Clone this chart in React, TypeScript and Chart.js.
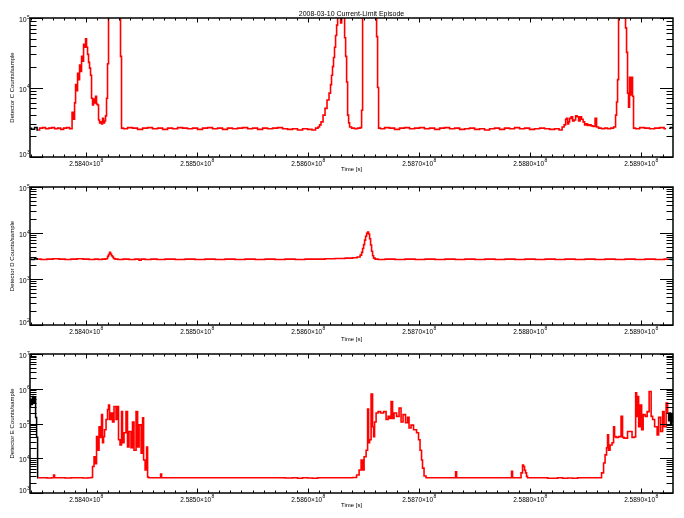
import { useEffect, useRef } from 'react';
import { Chart, registerables } from 'chart.js';

Chart.register(...registerables);

const FONT = '"Liberation Sans", Arial, Helvetica, sans-serif';

// ---------- text ----------
const TITLE = '2008-03-10 Current-Limit Episode';
const X_TITLE = 'Time [s]';
const Y_TITLES = ['Detector C Counts/sample', 'Detector D Counts/sample', 'Detector E Counts/sample'];

// ---------- x axis (seconds) ----------
const X_MIN = 258349500;
const X_MAX = 258928800;
const X_MAJOR = 100000;
const X_MINOR = 10000;
// part of the record drawn in red (the rest shows in black)
const RED_START = 258356800;
const RED_END = 258924400;

// ---------- y ranges ----------
const Y_RANGES: [number, number][] = [[1e3, 1e5], [1e2, 1e5], [1e3, 1e7]];

// ---------- Detector C ----------
const detCTime = [
  258349500, 258352200, 258355000, 258356800, 258359500, 258362200, 258364900, 258367600, 258370300, 258373000,
  258375700, 258378400, 258381100, 258383800, 258386500, 258388300, 258389200, 258390100, 258391000, 258391900,
  258392800, 258393700, 258394600, 258395500, 258396400, 258397300, 258398200, 258399100, 258400000, 258400900,
  258401800, 258402700, 258403600, 258404500, 258405400, 258406300, 258407200, 258408100, 258409000, 258409900,
  258410800, 258411700, 258412600, 258413500, 258414400, 258415300, 258416200, 258417100, 258418000, 258418900,
  258419800, 258420700, 258425200, 258430600, 258431500, 258432400, 258435100, 258439600, 258444100, 258448700,
  258453200, 258457700, 258462200, 258466700, 258471200, 258475700, 258480200, 258484700, 258489200, 258493700,
  258498200, 258502700, 258507200, 258511700, 258516200, 258520700, 258525200, 258529700, 258534200, 258538800,
  258543300, 258547800, 258552300, 258556800, 258561300, 258565800, 258570300, 258574800, 258579300, 258583800,
  258588300, 258592800, 258597300, 258601800, 258605400, 258608100, 258609900, 258610800, 258612600, 258614400,
  258616200, 258618000, 258619800, 258620700, 258621600, 258622500, 258623400, 258624300, 258625300, 258626200,
  258627100, 258628900, 258629800, 258630700, 258632500, 258633400, 258634300, 258635200, 258636100, 258637000,
  258637900, 258640600, 258643300, 258646000, 258647800, 258648700, 258649600, 258655900, 258661300, 258662200,
  258663100, 258664000, 258666700, 258671200, 258675700, 258680200, 258684700, 258689200, 258693700, 258698200,
  258702700, 258707200, 258711700, 258716300, 258720800, 258725300, 258729800, 258734300, 258738800, 258743300,
  258747800, 258752300, 258756800, 258761300, 258765800, 258770300, 258774800, 258779300, 258783800, 258788300,
  258792800, 258797300, 258801800, 258806400, 258810900, 258815400, 258819900, 258824400, 258828000, 258829800,
  258831600, 258832500, 258833400, 258834300, 258835200, 258836100, 258837900, 258838800, 258840600, 258841500,
  258843300, 258844200, 258846000, 258846900, 258848700, 258849600, 258851400, 258852300, 258854100, 258855900,
  258857700, 258859500, 258860400, 258863100, 258865800, 258868500, 258871200, 258873900, 258876600, 258877500,
  258878400, 258879300, 258880200, 258882900, 258885600, 258886500, 258887400, 258888300, 258889200, 258890100,
  258891000, 258891900, 258892800, 258893700, 258896500, 258901000, 258905500, 258910000, 258914500, 258919000,
  258922600, 258925300, 258928000, 258929800,
];
const detCCounts = [
  2600, 2500, 2650, 2450, 2600, 2650, 2550, 2600, 2650, 2550,
  2600, 2500, 2600, 2650, 2550, 4400, 3500, 6000, 11000, 9000,
  16000, 13000, 21000, 17000, 28000, 24000, 42000, 38000, 50000, 38000,
  30000, 23000, 19000, 15000, 7000, 5600, 6800, 6000, 7500, 5800,
  5600, 3400, 3100, 3200, 3000, 3600, 3100, 3300, 3900, 7000,
  22000, 200000, 200000, 200000, 28000, 2600, 2550, 2650, 2600, 2500,
  2600, 2650, 2550, 2600, 2500, 2600, 2550, 2650, 2600, 2550,
  2600, 2500, 2600, 2650, 2550, 2600, 2500, 2600, 2550, 2600,
  2650, 2550, 2600, 2500, 2600, 2550, 2600, 2650, 2550, 2500,
  2550, 2450, 2550, 2500, 2450, 2600, 2700, 2900, 3200, 4000,
  5000, 6600, 8300, 11000, 15000, 20000, 27000, 38000, 56000, 79000,
  110000, 110000, 85000, 110000, 110000, 52000, 28000, 12000, 4000, 3100,
  2700, 2600, 2550, 2600, 2650, 4700, 200000, 200000, 200000, 54000,
  10000, 2600, 2550, 2650, 2600, 2500, 2600, 2650, 2550, 2600,
  2650, 2550, 2600, 2500, 2600, 2650, 2550, 2600, 2500, 2550,
  2600, 2500, 2550, 2450, 2550, 2600, 2500, 2600, 2550, 2650,
  2550, 2600, 2500, 2550, 2600, 2550, 2500, 2550, 2450, 2700,
  2900, 3500, 3600, 3000, 3200, 3600, 3800, 3300, 3400, 3900,
  3800, 3300, 3800, 3500, 3200, 2900, 3000, 2850, 2900, 2800,
  2750, 3600, 2700, 2600, 2550, 2600, 2550, 2600, 2700, 4000,
  6200, 13000, 200000, 200000, 200000, 72000, 32000, 8300, 5200, 14000,
  7800, 14000, 7500, 2600, 2550, 2650, 2600, 2550, 2600, 2650,
  2550, 2600, 2650, 2600,
];

// ---------- Detector D ----------
const detDTime = [
  258349500, 258352200, 258355000, 258356800, 258362200, 258367600, 258373000, 258378400, 258383800, 258389200,
  258394600, 258400000, 258405400, 258409900, 258412600, 258416200, 258418900, 258419800, 258420700, 258421600,
  258422500, 258423400, 258424300, 258425200, 258427000, 258430600, 258436000, 258441400, 258446900, 258448700,
  258450500, 258455900, 258461300, 258466700, 258475700, 258484700, 258493700, 258502700, 258511700, 258520700,
  258529700, 258538800, 258547800, 258556800, 258565800, 258574800, 258583800, 258592800, 258601800, 258610800,
  258619800, 258628900, 258637900, 258642400, 258646000, 258647800, 258648700, 258649600, 258650500, 258651400,
  258652300, 258653200, 258654100, 258655000, 258655900, 258656800, 258657700, 258658600, 258659500, 258661300,
  258664900, 258673900, 258682900, 258691900, 258700900, 258709900, 258718900, 258727900, 258736900, 258745900,
  258754900, 258763900, 258773000, 258782000, 258791000, 258800000, 258809100, 258818100, 258827100, 258836100,
  258845100, 258854100, 258863100, 258872100, 258881100, 258890100, 258899200, 258908200, 258917200, 258924400,
  258929800,
];
const detDCounts = [
  2700, 2650, 2750, 2700, 2650, 2700, 2750, 2700, 2650, 2700,
  2750, 2700, 2650, 2700, 2650, 2700, 2750, 3100, 3400, 3800,
  3500, 3200, 3000, 2800, 2700, 2650, 2700, 2650, 2700, 2550,
  2700, 2650, 2700, 2650, 2700, 2650, 2700, 2650, 2700, 2650,
  2700, 2650, 2700, 2650, 2700, 2650, 2700, 2650, 2700, 2700,
  2750, 2800, 2850, 2900, 3000, 3300, 3800, 4600, 5600, 7000,
  8500, 9800, 10500, 9500, 7500, 5500, 4000, 3200, 2850, 2700,
  2650, 2700, 2650, 2700, 2650, 2700, 2650, 2700, 2650, 2700,
  2650, 2700, 2650, 2700, 2650, 2700, 2650, 2700, 2650, 2700,
  2650, 2700, 2650, 2700, 2650, 2700, 2650, 2700, 2650, 2700,
  2650,
];

// ---------- Detector E ----------
const detETime = [
  258349500, 258350400, 258351300, 258352200, 258353100, 258354100, 258355000, 258355900, 258356800, 258362200,
  258367600, 258370300, 258371200, 258372100, 258378400, 258383800, 258389200, 258394600, 258400000, 258403600,
  258405400, 258406300, 258408100, 258409000, 258409900, 258410800, 258412600, 258413500, 258414400, 258415300,
  258416200, 258417100, 258418900, 258419800, 258420700, 258421600, 258423400, 258424300, 258426100, 258427900,
  258428800, 258429700, 258431500, 258432400, 258433300, 258435100, 258436900, 258437800, 258439600, 258441400,
  258442300, 258444100, 258446000, 258446900, 258448700, 258450500, 258451400, 258452300, 258454100, 258455000,
  258455900, 258456800, 258466700, 258467600, 258468500, 258475700, 258484700, 258493700, 258502700, 258511700,
  258520700, 258529700, 258538800, 258547800, 258556800, 258565800, 258574800, 258583800, 258588300, 258592800,
  258597300, 258601800, 258606300, 258610800, 258619800, 258628900, 258637900, 258642400, 258645100, 258646900,
  258648700, 258649600, 258651400, 258653200, 258654100, 258655000, 258655900, 258657700, 258658600, 258659500,
  258660400, 258662200, 258664000, 258666700, 258669400, 258671200, 258673000, 258673900, 258675700, 258676600,
  258678400, 258681100, 258682900, 258684700, 258686500, 258689200, 258690100, 258691900, 258693700, 258696400,
  258699100, 258700000, 258701800, 258702700, 258703600, 258705400, 258707200, 258718900, 258732500, 258733400,
  258734300, 258745900, 258763900, 258782900, 258783800, 258784700, 258791000, 258792800, 258793700, 258794600,
  258795500, 258796400, 258797300, 258798200, 258809100, 258822600, 258827100, 258831600, 258836100, 258840600,
  258845100, 258854100, 258863100, 258865800, 258866700, 258868500, 258869400, 258870300, 258871200, 258873000,
  258874800, 258875700, 258876600, 258878400, 258881100, 258882900, 258883800, 258885600, 258887400, 258888300,
  258891000, 258892800, 258894700, 258895600, 258896500, 258897400, 258898300, 258900100, 258901000, 258902800,
  258904600, 258906400, 258908200, 258910000, 258910900, 258913600, 258915400, 258916300, 258919000, 258919900,
  258921700, 258923500, 258924400, 258925300, 258926200, 258927100, 258928000, 258929800,
];
const detECounts = [
  300000, 500000, 350000, 600000, 400000, 550000, 150000, 40000, 2750, 2750,
  2700, 2750, 3300, 2750, 2750, 2700, 2750, 2750, 2700, 2750,
  2800, 5800, 11000, 7000, 42000, 17000, 81000, 40000, 180000, 28000,
  42000, 66000, 130000, 250000, 340000, 130000, 200000, 110000, 310000, 130000,
  310000, 34000, 24000, 220000, 28000, 54000, 220000, 21000, 59000, 20000,
  110000, 17000, 220000, 21000, 91000, 14000, 145000, 8900, 4600, 21000,
  2900, 2750, 2750, 3500, 2750, 2750, 2750, 2750, 2750, 2750,
  2750, 2750, 2750, 2750, 2750, 2750, 2750, 2700, 2750, 2650,
  2750, 2700, 2650, 2750, 2750, 2750, 2750, 2800, 3300, 4600,
  8900, 4600, 11000, 17000, 260000, 28000, 34000, 700000, 81000, 42000,
  110000, 200000, 220000, 200000, 220000, 130000, 160000, 140000, 430000, 140000,
  200000, 160000, 280000, 110000, 180000, 105000, 150000, 74000, 90000, 66000,
  54000, 34000, 17000, 8900, 5200, 3100, 2750, 2750, 2750, 4100,
  2750, 2750, 2750, 2750, 4200, 2750, 2750, 3800, 6400, 5800,
  4500, 3800, 3000, 2750, 2750, 2650, 2750, 2650, 2700, 2650,
  2750, 2750, 2750, 3800, 7300, 12500, 20000, 47000, 17000, 24000,
  28000, 81000, 42000, 40000, 42000, 160000, 40000, 38000, 38000, 59000,
  59000, 40000, 41000, 760000, 160000, 600000, 81000, 340000, 66000, 180000,
  160000, 220000, 830000, 160000, 130000, 81000, 47000, 150000, 59000, 220000,
  81000, 390000, 200000, 120000, 200000, 90000, 180000, 110000,
];

const SERIES = [
  { times: detCTime, counts: detCCounts },
  { times: detDTime, counts: detDCounts },
  { times: detETime, counts: detECounts },
];

// ---------- layout (page pixels) ----------
const LAYOUT = [
  { top: 0, height: 175, padTop: 0, xAxisH: 18, xTitlePb: 1.9, showTitle: true },
  { top: 175, height: 170, padTop: 12, xAxisH: 20, xTitlePb: 2.4, showTitle: false },
  { top: 340, height: 178, padTop: 14, xAxisH: 25, xTitlePb: 8.9, showTitle: false },
];

function drawPowerLabel(ctx: any, mant: string, exp: string, xPos: number, base: number, align: 'center' | 'right', mainSize: number, supSize: number, rise: number) {
  ctx.font = `${mainSize}px ${FONT}`;
  const w1 = ctx.measureText(mant).width;
  ctx.font = `${supSize}px ${FONT}`;
  const w2 = ctx.measureText(exp).width;
  const x0 = align === 'center' ? xPos - (w1 + w2) / 2 : xPos - (w1 + w2);
  ctx.textAlign = 'left';
  ctx.textBaseline = 'alphabetic';
  ctx.font = `${mainSize}px ${FONT}`;
  ctx.fillText(mant, x0, base);
  ctx.font = `${supSize}px ${FONT}`;
  ctx.fillText(exp, x0 + w1 + 0.3, base - rise);
}

const idlFrame = {
  id: 'idlFrame',
  afterDraw(chart: any) {
    const { ctx, chartArea: a, scales } = chart;
    const x = scales.x;
    const y = scales.y;
    ctx.save();
    ctx.strokeStyle = '#000';
    ctx.fillStyle = '#000';
    ctx.lineWidth = 1;
    ctx.beginPath();
    for (let i = Math.ceil(x.min / X_MINOR); i * X_MINOR <= x.max; i++) {
      const px = Math.round(x.getPixelForValue(i * X_MINOR)) + 0.5;
      const len = i % 10 === 0 ? 4.5 : 2.5;
      ctx.moveTo(px, a.bottom);
      ctx.lineTo(px, a.bottom - len);
      ctx.moveTo(px, a.top);
      ctx.lineTo(px, a.top + len);
    }
    const e0 = Math.round(Math.log10(y.min));
    const e1 = Math.round(Math.log10(y.max));
    for (let e = e0; e <= e1; e++) {
      for (let m = 1; m <= 9; m++) {
        const v = m * Math.pow(10, e);
        if (v > y.max * 1.0001) break;
        const py = Math.round(y.getPixelForValue(v)) + 0.5;
        const len = m === 1 ? 13 : 6.5;
        ctx.moveTo(a.left, py);
        ctx.lineTo(a.left + len, py);
        ctx.moveTo(a.right, py);
        ctx.lineTo(a.right - len, py);
      }
    }
    ctx.stroke();
    ctx.lineWidth = 1.5;
    ctx.strokeRect(a.left, a.top, a.right - a.left, a.bottom - a.top);

    // x tick labels: mantissa×10^exp
    for (let i = Math.ceil(x.min / X_MAJOR); i * X_MAJOR <= x.max; i++) {
      const v = i * X_MAJOR;
      const ex = Math.floor(Math.log10(v));
      const mant = (v / Math.pow(10, ex)).toFixed(4) + '×10';
      drawPowerLabel(ctx, mant, String(ex), x.getPixelForValue(v), a.bottom + 8.5, 'center', 6.5, 5, 4);
    }
    // y tick labels at decades
    for (let e = e0; e <= e1; e++) {
      const py = y.getPixelForValue(Math.pow(10, e));
      const base = Math.min(py + 4, a.bottom);
      drawPowerLabel(ctx, '10', String(e), a.left - 0.5, base, 'right', 7, 5, 3.5);
    }
    ctx.restore();
  },
};

function Panel({ idx }: { idx: number }) {
  const ref = useRef<HTMLCanvasElement | null>(null);
  const lay = LAYOUT[idx];
  useEffect(() => {
    if (!ref.current) return;
    const { times, counts } = SERIES[idx];
    const all = times.map((t, i) => ({ x: t, y: counts[i] as number | null }));
    const red = all.filter((p) => p.x >= RED_START && p.x <= RED_END);
    const black = [
      ...all.filter((p) => p.x <= RED_START),
      { x: (RED_START + RED_END) / 2, y: null },
      ...all.filter((p) => p.x >= RED_END),
    ];
    const [yMin, yMax] = Y_RANGES[idx];
    const chart = new Chart(ref.current, {
      type: 'line',
      data: {
        datasets: [
          { data: red, borderColor: '#ff0000', borderWidth: 1.6, pointRadius: 0, stepped: 'middle', fill: false },
          { data: black, borderColor: '#000000', borderWidth: 1.5, pointRadius: 0, stepped: 'middle', fill: false, spanGaps: false },
        ],
      },
      options: {
        responsive: false,
        animation: false,
        events: [],
        layout: { padding: { top: lay.padTop, left: 0, right: 11, bottom: 0 } },
        plugins: {
          legend: { display: false },
          tooltip: { enabled: false },
          title: {
            display: lay.showTitle,
            text: TITLE,
            color: '#000',
            fullSize: false,
            font: { family: FONT, size: 7, weight: 'normal', lineHeight: 1 },
            padding: { top: 10.5, bottom: 0.5 },
          },
        },
        scales: {
          x: {
            type: 'linear',
            min: X_MIN,
            max: X_MAX,
            afterFit: (s: any) => {
              s.height = lay.xAxisH;
            },
            grid: { display: false, drawTicks: false },
            border: { display: false },
            ticks: { display: false, stepSize: X_MAJOR },
            title: {
              display: true,
              text: X_TITLE,
              color: '#000',
              font: { family: FONT, size: 6 },
              padding: { top: 0, bottom: lay.xTitlePb },
            },
          },
          y: {
            type: 'logarithmic',
            min: yMin,
            max: yMax,
            afterFit: (s: any) => {
              s.width = 30;
            },
            grid: { display: false, drawTicks: false },
            border: { display: false },
            ticks: { display: false },
            title: {
              display: true,
              text: Y_TITLES[idx],
              color: '#000',
              font: { family: FONT, size: 6 },
              padding: { top: 9, bottom: 0 },
            },
          },
        },
      } as any,
      plugins: [idlFrame],
    });
    return () => chart.destroy();
  }, [idx]);
  return (
    <canvas
      ref={ref}
      width={684}
      height={lay.height}
      style={{ position: 'absolute', left: 0, top: lay.top, width: 684, height: lay.height }}
    />
  );
}

export default function App() {
  return (
    <div style={{ position: 'absolute', left: 0, top: 0, width: 684, height: 518, background: '#fff' }}>
      <Panel idx={0} />
      <Panel idx={1} />
      <Panel idx={2} />
    </div>
  );
}
